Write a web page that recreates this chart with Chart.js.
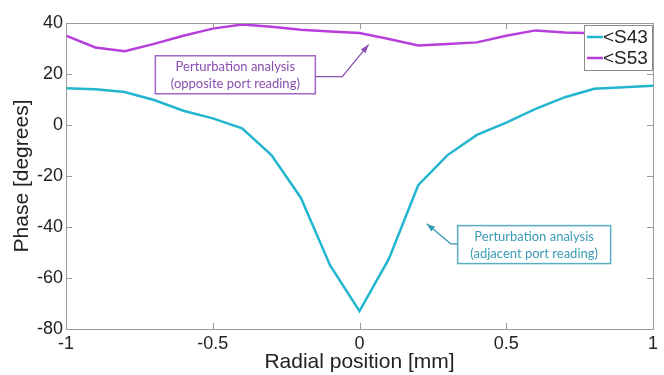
<!DOCTYPE html>
<html>
<head>
<meta charset="utf-8">
<script src="https://cdn.jsdelivr.net/npm/chart.js@4/dist/chart.umd.min.js"></script>
<style>
  html, body { margin: 0; padding: 0; background: #fff; }
  #wrap { width: 664px; height: 375px; }
</style>
</head>
<body>
<div id="wrap"><canvas id="chart" width="664" height="375"></canvas></div>
<script>
// radial position [mm]
const positions = [-1, -0.9, -0.8, -0.7, -0.6, -0.5, -0.4, -0.3, -0.2, -0.1, 0, 0.1, 0.2, 0.3, 0.4, 0.5, 0.6, 0.7, 0.8, 0.9, 1];
// phase [degrees]
const s43 = [14.4, 14.0, 12.9, 9.8, 5.6, 2.6, -1.3, -11.8, -28.5, -55.1, -73.0, -52.5, -23.6, -11.8, -3.9, 0.9, 6.3, 10.9, 14.2, 14.8, 15.4];
const s53 = [35.0, 30.4, 28.9, 31.8, 35.0, 37.8, 39.4, 38.5, 37.4, 36.7, 36.1, 33.7, 31.2, 31.8, 32.4, 35.0, 37.1, 36.3, 36.0, 35.8, 36.5];
const seriesNames = ['<S43', '<S53'];
const xTicks = [-1, -0.5, 0, 0.5, 1];
const yTicks = [-80, -60, -40, -20, 0, 20, 40];

const cyan = '#22b6cf';
const purple = '#b63fdc';
const FONT = '"Liberation Sans", Arial, sans-serif';

const toPoints = (ys) => positions.map((x, i) => ({ x: x, y: ys[i] }));

// notes: anchor in data coords, sizes in px
const notes = [
  { lines: ['Perturbation analysis', '(opposite port reading)'], x: -0.423, y: 19.7, w: 160, h: 38,
    color: '#8a4fb0', border: '#a366c8',
    arrow: [[-0.059, 19.0], [0.031, 31.5]], from: 'right' },
  { lines: ['Perturbation analysis', '(adjacent port reading)'], x: 0.595, y: -46.9, w: 153, h: 38,
    color: '#3a9cb4', border: '#5aaec2',
    arrow: [[0.311, -46.6], [0.229, -38.7]], from: 'left' }
];

const frame = {
  id: 'frame',
  afterDatasetsDraw(chart) {
    const { ctx, chartArea: a, scales } = chart;
    const xs = scales.x, ys = scales.y;
    ctx.save();
    // box
    ctx.strokeStyle = '#9a9a9a';
    ctx.lineWidth = 1;
    ctx.strokeRect(a.left + 0.5, a.top + 0.5, a.right - a.left, a.bottom - a.top);
    // inward ticks
    ctx.beginPath();
    xTicks.forEach(v => {
      const px = Math.round(xs.getPixelForValue(v)) + 0.5;
      ctx.moveTo(px, a.bottom); ctx.lineTo(px, a.bottom - 6);
      ctx.moveTo(px, a.top); ctx.lineTo(px, a.top + 6);
    });
    yTicks.forEach(v => {
      const py = Math.round(ys.getPixelForValue(v)) + 0.5;
      ctx.moveTo(a.left, py); ctx.lineTo(a.left + 6, py);
      ctx.moveTo(a.right, py); ctx.lineTo(a.right - 6, py);
    });
    ctx.stroke();

    // annotations
    notes.forEach(n => {
      const cx = xs.getPixelForValue(n.x), cy = ys.getPixelForValue(n.y);
      const l = cx - n.w / 2, t = cy - n.h / 2;
      ctx.fillStyle = '#fff';
      ctx.fillRect(l, t, n.w, n.h);
      ctx.strokeStyle = n.border;
      ctx.lineWidth = 1.5;
      ctx.strokeRect(l, t, n.w, n.h);
      ctx.fillStyle = n.color;
      ctx.font = '13px Lato';
      ctx.textAlign = 'center';
      ctx.textBaseline = 'middle';
      ctx.fillText(n.lines[0], cx, cy - 8);
      ctx.fillText(n.lines[1], cx, cy + 9);
      // arrow
      const p1 = [xs.getPixelForValue(n.arrow[0][0]), ys.getPixelForValue(n.arrow[0][1])];
      const p2 = [xs.getPixelForValue(n.arrow[1][0]), ys.getPixelForValue(n.arrow[1][1])];
      const sx = n.from === 'right' ? l + n.w : l;
      ctx.strokeStyle = n.color;
      ctx.lineWidth = 1.3;
      ctx.beginPath();
      ctx.moveTo(sx, p1[1]);
      ctx.lineTo(p1[0], p1[1]);
      ctx.lineTo(p2[0], p2[1]);
      ctx.stroke();
      const ang = Math.atan2(p2[1] - p1[1], p2[0] - p1[0]);
      ctx.fillStyle = n.color;
      ctx.beginPath();
      ctx.moveTo(p2[0], p2[1]);
      ctx.lineTo(p2[0] - 9 * Math.cos(ang - 0.35), p2[1] - 9 * Math.sin(ang - 0.35));
      ctx.lineTo(p2[0] - 9 * Math.cos(ang + 0.35), p2[1] - 9 * Math.sin(ang + 0.35));
      ctx.closePath();
      ctx.fill();
    });

    // legend in the top right corner
    const lw = 68, lh = 45;
    const lx = a.right - lw - 1, ly = a.top + 2;
    ctx.fillStyle = '#fff';
    ctx.fillRect(lx, ly, lw, lh);
    ctx.strokeStyle = '#8a8a8a';
    ctx.lineWidth = 1;
    ctx.strokeRect(lx + 0.5, ly + 0.5, lw, lh);
    ctx.font = '19px ' + FONT;
    ctx.textAlign = 'left';
    ctx.textBaseline = 'middle';
    chart.data.datasets.forEach((ds, i) => {
      const yy = ly + 12 + i * 21;
      ctx.strokeStyle = ds.borderColor;
      ctx.lineWidth = 2.5;
      ctx.beginPath();
      ctx.moveTo(lx + 3, yy); ctx.lineTo(lx + 19, yy);
      ctx.stroke();
      ctx.fillStyle = '#222';
      ctx.fillText(ds.label, lx + 19, yy + 1);
    });
    ctx.restore();
  }
};

new Chart(document.getElementById('chart').getContext('2d'), {
  type: 'line',
  data: {
    datasets: [
      { label: seriesNames[0], data: toPoints(s43), borderColor: cyan, borderWidth: 2.5, pointRadius: 0, tension: 0, fill: false },
      { label: seriesNames[1], data: toPoints(s53), borderColor: purple, borderWidth: 2.5, pointRadius: 0, tension: 0, fill: false }
    ]
  },
  options: {
    responsive: false,
    animation: false,
    layout: { padding: { top: 23, right: 11, left: 0, bottom: 0 } },
    plugins: { legend: { display: false }, tooltip: { enabled: false } },
    scales: {
      x: {
        type: 'linear', min: -1, max: 1,
        afterBuildTicks: (s) => { s.ticks = xTicks.map(v => ({ value: v })); },
        afterFit: (s) => { s.height = 46; },
        grid: { display: false, drawTicks: false },
        border: { display: false },
        ticks: { color: '#222', padding: 4, maxRotation: 0, callback: (v) => String(v),
          font: { size: 18, family: FONT } },
        title: { display: true, text: 'Radial position [mm]', color: '#222', padding: { top: -6, bottom: 0 },
          font: { size: 21, family: FONT } }
      },
      y: {
        min: -80, max: 40,
        afterBuildTicks: (s) => { s.ticks = yTicks.map(v => ({ value: v })); },
        afterFit: (s) => { s.width = 66; },
        grid: { display: false, drawTicks: false },
        border: { display: false },
        ticks: { color: '#222', padding: 3, font: { size: 18, family: FONT } },
        title: { display: true, text: 'Phase [degrees]', color: '#222', padding: { top: 10, bottom: 0 },
          font: { size: 21, family: FONT } }
      }
    }
  },
  plugins: [frame]
});
</script>
</body>
</html>
